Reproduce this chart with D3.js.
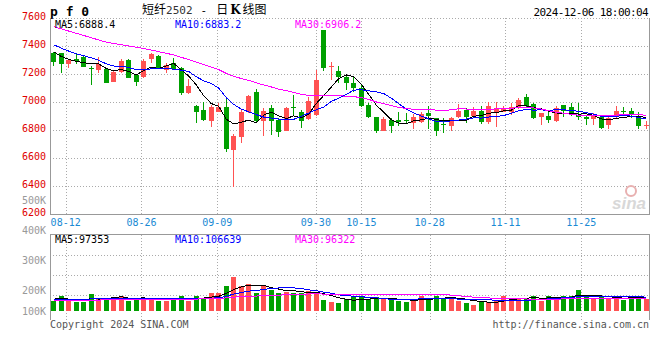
<!DOCTYPE html>
<html>
<head>
<meta charset="utf-8">
<script src="https://cdn.jsdelivr.net/npm/d3@7"></script>
<style>
body { margin: 0; background: #fff; }
svg { display: block; }
text { font-family: "DejaVu Sans Mono", monospace; font-size: 10px; }
</style>
</head>
<body>
<svg id="chart" width="660" height="360"></svg>
<script>
"use strict";

// trading days, 2024-08-08 .. 2024-12-06
const dates = [
    "08-08","08-09","08-12","08-13","08-14","08-15","08-16","08-19","08-20","08-21",
    "08-22","08-23","08-26","08-27","08-28","08-29","08-30","09-02","09-03","09-04",
    "09-05","09-06","09-09","09-10","09-11","09-12","09-13","09-18","09-19","09-20",
    "09-23","09-24","09-25","09-26","09-27","09-30","10-08","10-09","10-10","10-11",
    "10-14","10-15","10-16","10-17","10-18","10-21","10-22","10-23","10-24","10-25",
    "10-28","10-29","10-30","10-31","11-01","11-04","11-05","11-06","11-07","11-08",
    "11-11","11-12","11-13","11-14","11-15","11-18","11-19","11-20","11-21","11-22",
    "11-25","11-26","11-27","11-28","11-29","12-02","12-03","12-04","12-05","12-06"
];

const opens = [
    7352,7348,7271,7305,7319,7244,7226,7239,7145,7212,
    7300,7193,7180,7307,7328,7228,7276,7245,7066,6971,
    6943,6864,6930,6962,6657,6752,6930,7073,6866,6955,
    6871,6795,6966,6926,6878,6907,7514,7247,7221,7176,
    7138,7098,6978,6890,6795,6871,6871,6874,6848,6859,
    6919,6883,6840,6830,6891,6943,6900,6938,6859,6924,
    6931,6931,6955,7034,6986,6891,6900,6864,6979,6962,
    6907,6891,6879,6891,6836,6891,6935,6938,6895,6832
];
const highs = [
    7358,7352,7309,7340,7334,7259,7323,7242,7223,7305,
    7309,7200,7304,7352,7335,7276,7316,7252,7164,6978,
    7002,6978,6990,7021,6769,6943,7050,7093,6955,6978,
    6883,6966,7050,6943,7033,7228,7514,7288,7259,7193,
    7181,7121,6990,6895,6895,6883,6930,6919,6912,6930,
    6971,6888,6883,6895,6986,6960,6966,6971,7002,7002,
    6971,6995,7026,7057,6995,6924,6931,6971,6980,6991,
    6995,6905,6919,6907,6900,6971,6966,6959,6931,6864
];
const lows = [
    7257,7205,7240,7271,7248,7121,7205,7134,7140,7205,
    7169,7116,7174,7281,7240,7205,7230,7050,7060,6848,
    6865,6823,6925,6645,6395,6709,6920,6860,6759,6764,
    6752,6790,6907,6816,6870,6900,7223,7157,7133,7085,
    7073,6965,6885,6776,6790,6780,6830,6840,6807,6850,
    6807,6759,6776,6795,6885,6848,6895,6843,6843,6824,
    6925,6907,6950,6966,6880,6836,6848,6860,6895,6900,
    6871,6836,6836,6807,6805,6885,6900,6883,6807,6807
];
const closes = [
    7288,7273,7300,7295,7252,7240,7271,7138,7216,7295,
    7173,7145,7295,7340,7245,7264,7235,7066,7116,6930,
    6871,6962,6962,6662,6759,6930,7043,6864,6938,6866,
    6788,6955,6959,6866,7007,7157,7245,7255,7176,7133,
    7098,6973,6890,6795,6878,6830,6855,6869,6895,6912,
    6900,6795,6833,6888,6938,6895,6938,6859,6971,6955,
    6959,6966,7014,6971,6888,6924,6871,6955,6938,6914,
    6891,6879,6900,6812,6883,6938,6928,6907,6831,6838
];
const volumes = [
    78000,117000,78000,73000,73000,133000,102000,94000,109000,112000,
    78000,102000,102000,86000,78000,78000,102000,112000,78000,112000,
    94000,141000,141000,190000,260000,195000,211000,138000,190000,164000,
    141000,146000,141000,141000,156000,138000,86000,73000,60000,94000,
    104000,104000,94000,104000,94000,86000,78000,73000,78000,117000,
    94000,112000,94000,109000,78000,65000,47000,73000,73000,78000,
    112000,102000,102000,94000,112000,78000,117000,109000,112000,112000,
    164000,104000,94000,104000,94000,117000,86000,102000,112000,94000
];

// sessions before 08-08, off the chart; only feed the moving averages
const earlierCloses = [
    7749,7776,7771,7728,7716,7747,7614,7486,7565,7443,
    7415,7565,7685,7590,7609,7580,7576,7626,7440,7381,
    7520,7505,7483,7395,7392,7443,7400,7370,7294
];
const earlierVolumes = [
    72000,85000,78000,66000,90000,81000,74000,69000,88000,77000,
    80000,71000,83000,75000,92000,70000,79000,84000,68000,76000,
    73000,86000,79000,81000,95000,88000,102000,90000,97000
];

const priceLabels = [7600, 7400, 7200, 7000, 6800, 6600, 6400, 6200];
const priceGrid = [7400, 7200, 7000, 6800, 6600, 6400];
const dateTicks = ["08-12", "08-26", "09-09", "09-30", "10-15", "10-28", "11-11", "11-25"];
const volumeLabels = ["400K", "300K", "200K", "100K"];
const volumeGrid = [300000, 200000, 100000];
const maPeriods = [5, 10, 30];
const maColors = ["#000000", "#0000ff", "#ff00ff"];
const priceLegend = ["MA5:6888.4", "MA10:6883.2", "MA30:6906.2"];
const volumeLegend = ["MA5:97353", "MA10:106639", "MA30:96322"];

const RED = "#ff5252";
const GREEN = "#00a000";

const svg = d3.select("#chart");

const x = d3.scaleBand().domain(dates).range([50, 650]).paddingInner(0.2).paddingOuter(0.1);
const xTick = d3.scalePoint().domain(dates).range([50.5, 649.5]);
const y = d3.scaleLinear().domain([6200, 7600]).range([214, 18]);
const yVol = d3.scaleLinear().domain([0, 400000]).range([311, 259]);
const yVolLabel = d3.scaleOrdinal().domain(volumeLabels).range([230, 260, 290, 311]);

function center(d) {
    return x(d) + x.bandwidth() / 2;
}

function px(v) {
    return Math.round(v) + 0.5;
}

function movingAverage(values, earlier, n) {
    const all = earlier.concat(values);
    const off = earlier.length;
    return values.map((v, i) => d3.mean(all.slice(off + i - n + 1, off + i + 1)));
}

const candles = dates.map((d, i) => ({
    date: d, open: opens[i], high: highs[i], low: lows[i], close: closes[i], volume: volumes[i]
}));

function colorOf(c) {
    return c.close >= c.open ? RED : GREEN;
}

// clip paths
const defs = svg.append("defs");
defs.append("clipPath").attr("id", "clipMain")
    .append("rect").attr("x", 51).attr("y", 18).attr("width", 598).attr("height", 196);
defs.append("clipPath").attr("id", "clipVol")
    .append("rect").attr("x", 51).attr("y", 235).attr("width", 598).attr("height", 80);

// ---- main panel frame and grid
const grid = svg.append("g").attr("stroke", "#aaa").attr("stroke-dasharray", "1,2")
    .attr("shape-rendering", "crispEdges");

grid.selectAll(".hgrid").data(priceGrid).enter().append("line")
    .attr("x1", 50).attr("x2", 650)
    .attr("y1", d => px(y(d))).attr("y2", d => px(y(d)));

grid.append("line").attr("x1", 50).attr("x2", 650).attr("y1", px(y(7600))).attr("y2", px(y(7600)));

grid.selectAll(".vgrid").data(dateTicks).enter().append("line")
    .attr("x1", d => px(xTick(d))).attr("x2", d => px(xTick(d)))
    .attr("y1", 18).attr("y2", 214);

grid.selectAll(".vgridVol").data(dateTicks).enter().append("line")
    .attr("x1", d => px(xTick(d))).attr("x2", d => px(xTick(d)))
    .attr("y1", 235).attr("y2", 320);

grid.selectAll(".hgridVol").data(volumeGrid).enter().append("line")
    .attr("x1", 50).attr("x2", 650)
    .attr("y1", (d, i) => 255.5 + i * 20).attr("y2", (d, i) => 255.5 + i * 20);

const frame = svg.append("g").attr("stroke", "#999").attr("fill", "none")
    .attr("shape-rendering", "crispEdges");
frame.append("path").attr("d", `M50.5,18V${px(y(6200))}H649.5V18`);
frame.append("path").attr("d", "M50.5,320V234.5H649.5V320");

// sina watermark
const mark = svg.append("g").attr("fill", "#d8d8d8");
mark.append("text").attr("x", 646).attr("y", 209).attr("text-anchor", "end")
    .style("font-family", "Liberation Sans, Arial, sans-serif").style("font-size", "17px")
    .style("font-weight", "bold").style("font-style", "italic").text("sina");
mark.append("circle").attr("cx", 631).attr("cy", 191).attr("r", 5)
    .attr("fill", "none").attr("stroke", "#e8b0b0").attr("stroke-width", 2);

// ---- candles
const candleG = svg.append("g").attr("clip-path", "url(#clipMain)")
    .attr("shape-rendering", "crispEdges");

const candle = candleG.selectAll(".candle").data(candles).enter().append("g");

candle.append("line")
    .attr("x1", d => Math.floor(center(d.date) - 2) + 2.5)
    .attr("x2", d => Math.floor(center(d.date) - 2) + 2.5)
    .attr("y1", d => Math.round(y(d.high)))
    .attr("y2", d => Math.round(y(d.low)))
    .attr("stroke", colorOf);

candle.append("rect")
    .attr("x", d => Math.floor(center(d.date) - 2))
    .attr("width", 5)
    .attr("y", d => Math.round(y(Math.max(d.open, d.close))))
    .attr("height", d => Math.max(1, Math.round(y(Math.min(d.open, d.close))) - Math.round(y(Math.max(d.open, d.close)))))
    .attr("fill", colorOf);

// ---- moving averages on price
const priceLine = d3.line().x((d, i) => center(dates[i])).y(d => y(d));
maPeriods.forEach((n, k) => {
    candleG.append("path")
        .datum(movingAverage(closes, earlierCloses, n))
        .attr("d", priceLine)
        .attr("fill", "none")
        .attr("stroke", maColors[k])
        .attr("stroke-width", 1);
});

// ---- volume
const volG = svg.append("g").attr("clip-path", "url(#clipVol)")
    .attr("shape-rendering", "crispEdges");

volG.selectAll(".vol").data(candles).enter().append("rect")
    .attr("x", d => Math.floor(center(d.date) - 2))
    .attr("width", 5)
    .attr("y", d => Math.round(yVol(d.volume)))
    .attr("height", d => Math.round(yVol(0)) - Math.round(yVol(d.volume)))
    .attr("fill", colorOf);

const volLine = d3.line().x((d, i) => center(dates[i])).y(d => yVol(d));
maPeriods.forEach((n, k) => {
    volG.append("path")
        .datum(movingAverage(volumes, earlierVolumes, n))
        .attr("d", volLine)
        .attr("fill", "none")
        .attr("stroke", maColors[k])
        .attr("stroke-width", 1);
});

// ---- texts
svg.append("text").attr("x", 50).attr("y", 16)
    .style("font-size", "13px").style("font-weight", "bold").style("font-family", "DejaVu Sans Mono")
    .text("p f 0");

const title = svg.append("text").attr("x", 142).attr("y", 14)
    .style("font-family", "Noto Sans CJK SC").style("font-size", "12px");
title.append("tspan").text("短纤");
title.append("tspan").attr("fill", "#333").style("font-family", "DejaVu Sans Mono").style("font-size", "11px").text("2502");
title.append("tspan").attr("dx", 8).style("font-family", "DejaVu Sans Mono").style("font-size", "11px").text("-");
title.append("tspan").attr("dx", 9).text("日");
title.append("tspan").attr("dx", 2).style("font-weight", "bold").style("font-family", "DejaVu Serif").text("K");
title.append("tspan").attr("dx", 2).text("线图");

svg.append("text").attr("x", 648).attr("y", 16).attr("text-anchor", "end")
    .style("font-size", "11px").style("letter-spacing", "-0.6px")
    .text("2024-12-06 18:00:04");

svg.selectAll(".plabel").data(priceLabels).enter().append("text")
    .attr("x", 46).attr("y", d => y(d) - 2).attr("dy", "0.35em")
    .attr("text-anchor", "end").attr("fill", "#e00000")
    .text(d => d);

svg.append("text").attr("x", 46).attr("y", 200).attr("dy", "0.35em")
    .attr("text-anchor", "end").attr("fill", "#999").text("500K");

svg.selectAll(".vlabel").data(volumeLabels).enter().append("text")
    .attr("x", 46).attr("y", d => yVolLabel(d)).attr("dy", "0.35em")
    .attr("text-anchor", "end").attr("fill", "#999")
    .text(d => d);

svg.selectAll(".xlabel").data(dateTicks).enter().append("text")
    .attr("x", d => xTick(d)).attr("y", 222).attr("dy", "0.35em")
    .attr("text-anchor", "middle").attr("fill", "#1a8ad4")
    .text(d => d);

const legendX = [55, 175, 295];
svg.selectAll(".plegend").data(priceLegend).enter().append("text")
    .attr("x", (d, i) => legendX[i]).attr("y", 24).attr("dy", "0.35em")
    .attr("fill", (d, i) => maColors[i]).text(d => d);

svg.selectAll(".vlegend").data(volumeLegend).enter().append("text")
    .attr("x", (d, i) => legendX[i]).attr("y", 239).attr("dy", "0.35em")
    .attr("fill", (d, i) => maColors[i]).text(d => d);

svg.append("text").attr("x", 50).attr("y", 324).attr("dy", "0.35em")
    .attr("fill", "#555").text("Copyright 2024 SINA.COM");
svg.append("text").attr("x", 649).attr("y", 324).attr("dy", "0.35em")
    .attr("text-anchor", "end").attr("fill", "#555").text("http://finance.sina.com.cn");
</script>
</body>
</html>
